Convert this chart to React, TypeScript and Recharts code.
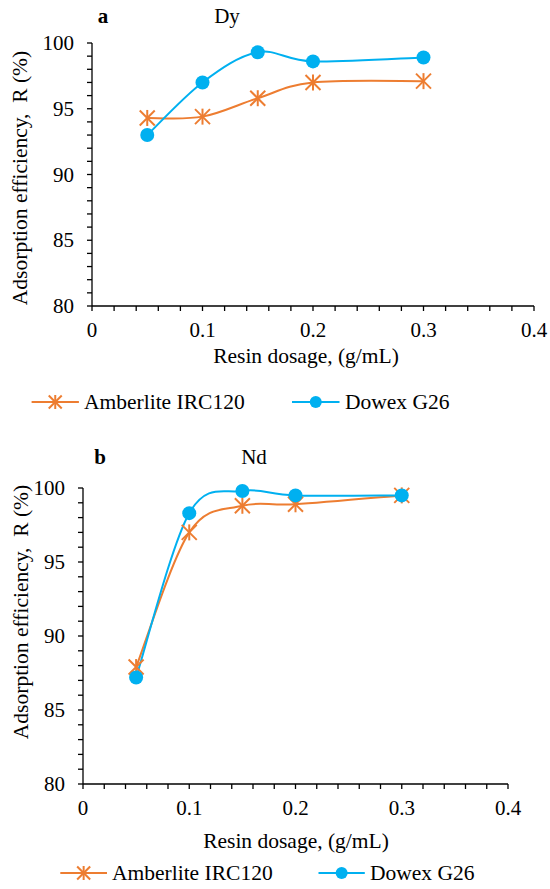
import { Line, LineChart, XAxis, YAxis } from 'recharts';

// resin dosage (g/mL)
const dosage = [0.05, 0.1, 0.15, 0.2, 0.3];
// adsorption efficiency R (%)
const dyAmberlite = [94.3, 94.4, 95.8, 97.0, 97.1];
const dyDowex = [93.0, 97.0, 99.3, 98.6, 98.9];
const ndAmberlite = [87.9, 97.0, 98.8, 98.9, 99.5];
const ndDowex = [87.2, 98.3, 99.8, 99.5, 99.5];

// major ticks get a label, the rest are minor marks
const xTicks = [0, 0.02, 0.04, 0.06, 0.08, 0.1, 0.12, 0.14, 0.16, 0.18, 0.2, 0.22, 0.24, 0.26, 0.28, 0.3, 0.32, 0.34, 0.36, 0.38, 0.4];
const yTicks = [80, 81, 82, 83, 84, 85, 86, 87, 88, 89, 90, 91, 92, 93, 94, 95, 96, 97, 98, 99, 100];

const seriesNames = ['Amberlite IRC120', 'Dowex G26'];

const ORANGE = '#ED7D31';
const BLUE = '#00B0F0';
const FONT = '"Liberation Serif", "Times New Roman", serif';

const rows = (a: number[], b: number[]) =>
  dosage.map((x, i) => ({ x, amberlite: a[i], dowex: b[i] }));

// Excel-style smoothed line (Catmull-Rom as cubic Beziers)
const excelSmooth = (ctx: any) => {
  let pts: number[][] = [];
  return {
    areaStart() {},
    areaEnd() {},
    lineStart() {
      pts = [];
    },
    point(x: number, y: number) {
      pts.push([+x, +y]);
    },
    lineEnd() {
      const n = pts.length;
      if (!n) return;
      ctx.moveTo(pts[0][0], pts[0][1]);
      for (let i = 0; i < n - 1; i++) {
        const p0 = pts[i - 1] ?? pts[i];
        const p1 = pts[i];
        const p2 = pts[i + 1];
        const p3 = pts[i + 2] ?? p2;
        ctx.bezierCurveTo(
          p1[0] + (p2[0] - p0[0]) / 6,
          p1[1] + (p2[1] - p0[1]) / 6,
          p2[0] - (p3[0] - p1[0]) / 6,
          p2[1] - (p3[1] - p1[1]) / 6,
          p2[0],
          p2[1],
        );
      }
    },
  };
};

function Star({ cx, cy, s = 7.5 }: { cx: number; cy: number; s?: number }) {
  return (
    <g stroke={ORANGE} strokeWidth={2} fill="none">
      <line x1={cx - s} y1={cy - s} x2={cx + s} y2={cy + s} />
      <line x1={cx + s} y1={cy - s} x2={cx - s} y2={cy + s} />
      <line x1={cx} y1={cy - s - 0.5} x2={cx} y2={cy + s + 0.5} />
    </g>
  );
}

const starDot = (p: any) => <Star key={p.key ?? p.index} cx={p.cx} cy={p.cy} />;

const isMajor = (v: number, step: number) => Math.abs(v / step - Math.round(v / step)) < 1e-6;

const XTick = (p: any) => {
  const v = p.payload.value;
  if (!isMajor(v, 0.1)) return <g />;
  return (
    <text x={p.x} y={p.y + 26} textAnchor="middle" fontSize={21} fontFamily={FONT} fill="#000">
      {v === 0 ? '0' : v.toFixed(1)}
    </text>
  );
};

const YTick = (p: any) => {
  const v = p.payload.value;
  if (!isMajor(v, 5)) return <g />;
  return (
    <text x={p.x - 13} y={p.y + 7} textAnchor="end" fontSize={21} fontFamily={FONT} fill="#000">
      {v}
    </text>
  );
};

type PanelProps = {
  top: number;
  height: number;
  axisLeft: number;
  plotTop: number;
  right: number;
  xAxisHeight: number;
  amberlite: number[];
  dowex: number[];
};

function Panel({ top, height, axisLeft, plotTop, right, xAxisHeight, amberlite, dowex }: PanelProps) {
  const axisStyle = { stroke: '#000', strokeWidth: 1.3 };
  return (
    <div style={{ position: 'absolute', left: 0, top }}>
      <LineChart
        width={550}
        height={height}
        data={rows(amberlite, dowex)}
        margin={{ top: plotTop, right, bottom: 0, left: 0 }}
      >
        <XAxis
          type="number"
          dataKey="x"
          domain={[0, 0.4]}
          ticks={xTicks}
          interval={0}
          height={xAxisHeight}
          tickSize={5}
          tickMargin={0}
          axisLine={axisStyle}
          tickLine={axisStyle}
          tick={XTick}
        />
        <YAxis
          type="number"
          domain={[80, 100]}
          ticks={yTicks}
          interval={0}
          width={axisLeft}
          tickSize={5}
          tickMargin={0}
          axisLine={axisStyle}
          tickLine={axisStyle}
          tick={YTick}
        />
        <Line
          dataKey="amberlite"
          type={excelSmooth as any}
          stroke={ORANGE}
          strokeWidth={2}
          dot={starDot}
          activeDot={false}
          isAnimationActive={false}
        />
        <Line
          dataKey="dowex"
          type={excelSmooth as any}
          stroke={BLUE}
          strokeWidth={2}
          dot={{ r: 7, fill: BLUE, stroke: BLUE, strokeWidth: 0 }}
          activeDot={false}
          isAnimationActive={false}
        />
      </LineChart>
    </div>
  );
}

function LegendRow({ y, items }: { y: number; items: { x1: number; x2: number; tx: number }[] }) {
  return (
    <g>
      {items.map((it, i) => {
        const mid = (it.x1 + it.x2) / 2;
        return (
          <g key={seriesNames[i]}>
            <line x1={it.x1} y1={y} x2={it.x2} y2={y} stroke={i === 0 ? ORANGE : BLUE} strokeWidth={2} />
            {i === 0 ? <Star cx={mid} cy={y} s={6.5} /> : <circle cx={mid} cy={y} r={6} fill={BLUE} />}
            <text x={it.tx} y={y + 7} fontSize={21.5} fontFamily={FONT} fill="#000">
              {seriesNames[i]}
            </text>
          </g>
        );
      })}
    </g>
  );
}

export default function App() {
  const text = { fontFamily: FONT, fill: '#000' };
  return (
    <div style={{ position: 'absolute', left: 0, top: 0, width: 550, height: 889, background: '#fff' }}>
      <Panel top={0} height={350} axisLeft={92} plotTop={43} right={16} xAxisHeight={44} amberlite={dyAmberlite} dowex={dyDowex} />
      <Panel top={440} height={390} axisLeft={83} plotTop={48} right={42} xAxisHeight={46} amberlite={ndAmberlite} dowex={ndDowex} />
      <svg width={550} height={889} style={{ position: 'absolute', left: 0, top: 0, pointerEvents: 'none' }}>
        <text x={103} y={23} textAnchor="middle" fontSize={21} fontWeight="bold" {...text}>a</text>
        <text x={227} y={23} textAnchor="middle" fontSize={21} {...text}>Dy</text>
        <text x={306} y={363} textAnchor="middle" fontSize={21.5} {...text}>Resin dosage, (g/mL)</text>
        <text transform="translate(27,178) rotate(-90)" textAnchor="middle" fontSize={21.5} {...text} style={{ whiteSpace: 'pre' }}>
          {'Adsorption efficiency,  R (%)'}
        </text>
        <LegendRow
          y={402}
          items={[
            { x1: 31.6, x2: 78.9, tx: 84 },
            { x1: 292, x2: 339.5, tx: 345 },
          ]}
        />

        <text x={100} y={464} textAnchor="middle" fontSize={21} fontWeight="bold" {...text}>b</text>
        <text x={254} y={464} textAnchor="middle" fontSize={21} {...text}>Nd</text>
        <text x={296} y={848} textAnchor="middle" fontSize={21.5} {...text}>Resin dosage, (g/mL)</text>
        <text transform="translate(28,612) rotate(-90)" textAnchor="middle" fontSize={21.5} {...text} style={{ whiteSpace: 'pre' }}>
          {'Adsorption efficiency,  R (%)'}
        </text>
        <LegendRow
          y={873}
          items={[
            { x1: 60.3, x2: 107, tx: 112 },
            { x1: 318.5, x2: 364.8, tx: 370 },
          ]}
        />
      </svg>
    </div>
  );
}
